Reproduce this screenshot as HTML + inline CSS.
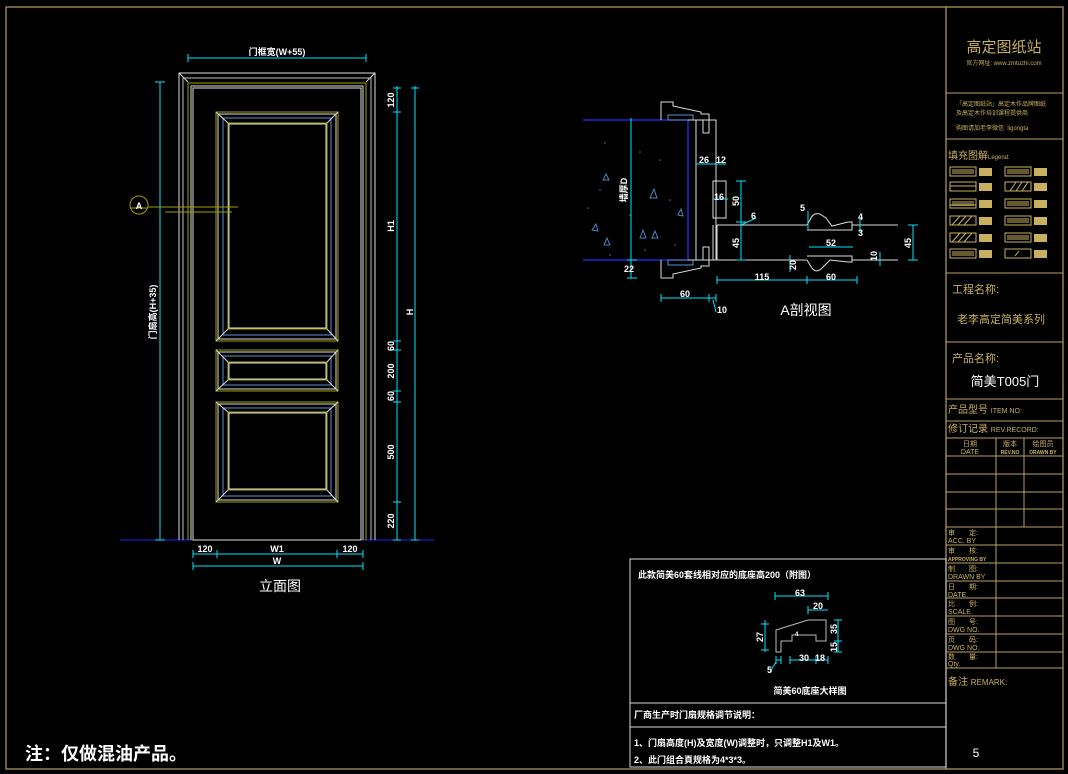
<!DOCTYPE html>
<html><head><meta charset="utf-8"><style>
html,body{margin:0;padding:0;background:#000;}
svg{display:block;}
text{font-family:"Liberation Sans","Noto Sans CJK SC",sans-serif;}
.w{fill:#fff;font-weight:bold;font-size:9px;}
.g{fill:#c8b060;}
</style></head><body>
<svg width="1068" height="774" viewBox="0 0 1068 774" xmlns="http://www.w3.org/2000/svg">
<rect width="1068" height="774" fill="#000"/>
<!-- outer border -->
<rect x="6" y="7" width="1057" height="762" fill="none" stroke="#b8a060" stroke-width="1.2"/>
<line x1="946" y1="7" x2="946" y2="769" stroke="#b8a060" stroke-width="1.2"/>

<!-- ================= DOOR ELEVATION ================= -->
<g fill="none" stroke-width="1">
<!-- ground -->
<line x1="120" y1="540" x2="434" y2="540" stroke="#2020ff"/>
<!-- outer frame -->
<polyline points="179,540 179,73 375,73 375,540" stroke="#ddd"/>
<line x1="179" y1="73" x2="188" y2="82" stroke="#ddd"/>
<line x1="375" y1="73" x2="366" y2="82" stroke="#ddd"/>
<polyline points="183,540 183,78 371,78 371,540" stroke="#bbb"/>
<polyline points="188,540 188,83 366,83 366,540" stroke="#a0a000"/>
<polyline points="191,540 191,86 363,86 363,540" stroke="#ddd"/>
<rect x="193" y="88" width="168" height="452" stroke="#ddd"/>
<!-- panels -->
<g id="p">
</g>
<!-- upper panel -->
<rect x="216" y="112" width="122" height="229" stroke="#a0a000"/>
<rect x="218" y="114" width="118" height="225" stroke="#ddd"/>
<rect x="223" y="118" width="108" height="217" stroke="#6090d0"/>
<rect x="228" y="123" width="99" height="206" stroke="#a0a000"/>
<rect x="229" y="124" width="97" height="204" stroke="#ddd"/>
<line x1="216" y1="112" x2="228" y2="123" stroke="#ddd"/><line x1="338" y1="112" x2="327" y2="123" stroke="#ddd"/>
<line x1="216" y1="341" x2="228" y2="329" stroke="#ddd"/><line x1="338" y1="341" x2="327" y2="329" stroke="#ddd"/>
<!-- middle panel -->
<rect x="216" y="350" width="122" height="41" stroke="#a0a000"/>
<rect x="218" y="352" width="118" height="37" stroke="#ddd"/>
<rect x="223" y="356" width="108" height="29" stroke="#6090d0"/>
<rect x="228" y="362" width="99" height="18" stroke="#a0a000"/>
<rect x="229" y="363" width="97" height="16" stroke="#ddd"/>
<line x1="216" y1="350" x2="228" y2="362" stroke="#ddd"/><line x1="338" y1="350" x2="327" y2="362" stroke="#ddd"/>
<line x1="216" y1="391" x2="228" y2="380" stroke="#ddd"/><line x1="338" y1="391" x2="327" y2="380" stroke="#ddd"/>
<!-- lower panel -->
<rect x="216" y="402" width="122" height="100" stroke="#a0a000"/>
<rect x="218" y="404" width="118" height="96" stroke="#ddd"/>
<rect x="223" y="408" width="108" height="88" stroke="#6090d0"/>
<rect x="228" y="412" width="99" height="78" stroke="#a0a000"/>
<rect x="229" y="413" width="97" height="76" stroke="#ddd"/>
<line x1="216" y1="402" x2="228" y2="412" stroke="#ddd"/><line x1="338" y1="402" x2="327" y2="412" stroke="#ddd"/>
<line x1="216" y1="502" x2="228" y2="490" stroke="#ddd"/><line x1="338" y1="502" x2="327" y2="490" stroke="#ddd"/>

<!-- section marker -->
<circle cx="139" cy="205" r="9" stroke="#a0a000"/>
<line x1="130" y1="208" x2="148" y2="208" stroke="#a0a000"/>
<line x1="148" y1="207" x2="238" y2="207" stroke="#a0a000"/>
<line x1="165" y1="212" x2="232" y2="212" stroke="#a0a000"/>

<!-- dimensions cyan -->
<g stroke="#00e5ff">
<line x1="188" y1="58" x2="366" y2="58"/>
<line x1="188" y1="54" x2="188" y2="62"/><line x1="366" y1="54" x2="366" y2="62"/>
<line x1="160" y1="82" x2="160" y2="540"/>
<line x1="155" y1="82" x2="165" y2="82"/><line x1="155" y1="540" x2="165" y2="540"/>
<line x1="397" y1="86" x2="397" y2="540"/>
<g><line x1="393" y1="88" x2="401" y2="88"/><line x1="393" y1="112" x2="401" y2="112"/><line x1="393" y1="341" x2="401" y2="341"/><line x1="393" y1="350" x2="401" y2="350"/><line x1="393" y1="391" x2="401" y2="391"/><line x1="393" y1="402" x2="401" y2="402"/><line x1="393" y1="502" x2="401" y2="502"/><line x1="393" y1="540" x2="401" y2="540"/></g>
<line x1="415" y1="86" x2="415" y2="540"/>
<line x1="411" y1="88" x2="419" y2="88"/><line x1="411" y1="540" x2="419" y2="540"/>
<line x1="193" y1="554" x2="363" y2="554"/>
<line x1="193" y1="550" x2="193" y2="558"/><line x1="217" y1="550" x2="217" y2="558"/><line x1="337" y1="550" x2="337" y2="558"/><line x1="363" y1="550" x2="363" y2="558"/>
<line x1="193" y1="566" x2="363" y2="566"/>
<line x1="193" y1="562" x2="193" y2="570"/><line x1="363" y1="562" x2="363" y2="570"/>
</g>
</g>
<text class="w" x="277" y="55" text-anchor="middle">门框宽(W+55)</text>
<text class="w" transform="translate(156,312) rotate(-90)" text-anchor="middle">门扇高(H+35)</text>
<g class="w">
<text transform="translate(394,100) rotate(-90)" text-anchor="middle">120</text>
<text transform="translate(394,226) rotate(-90)" text-anchor="middle">H1</text>
<text transform="translate(394,346) rotate(-90)" text-anchor="middle">60</text>
<text transform="translate(394,371) rotate(-90)" text-anchor="middle">200</text>
<text transform="translate(394,396) rotate(-90)" text-anchor="middle">60</text>
<text transform="translate(394,452) rotate(-90)" text-anchor="middle">500</text>
<text transform="translate(394,521) rotate(-90)" text-anchor="middle">220</text>
<text transform="translate(413,312) rotate(-90)" text-anchor="middle">H</text>
<text x="205" y="552" text-anchor="middle">120</text>
<text x="277" y="552" text-anchor="middle">W1</text>
<text x="350" y="552" text-anchor="middle">120</text>
<text x="277" y="564" text-anchor="middle">W</text>
<text x="139" y="209" text-anchor="middle" fill="#fff">A</text>
</g>
<text x="280" y="591" fill="#fff" font-size="14" text-anchor="middle">立面图</text>

<!-- ================= SECTION A ================= -->
<g fill="none" stroke-width="1">
<!-- wall hatch -->
<line x1="583" y1="120" x2="688" y2="120" stroke="#2030ff" stroke-width="1.3"/>
<line x1="583" y1="260" x2="688" y2="260" stroke="#2030ff" stroke-width="1.3"/>
<line x1="688" y1="120" x2="688" y2="260" stroke="#2030ff" stroke-width="1.3"/>
<g stroke="#5080c0">
<path d="M640,238 l3,-8 l3,8z M650,198 l4,-9 l3,9z M652,238 l3,-7 l3,7z M604,245 l3,-7 l3,7z M592,230 l4,-6 l2,7z M603,180 l3,-6 l3,6z M678,215 l3,-6 l2,7z"/>
</g>
<g fill="#4070c0" stroke="none">
<circle cx="605" cy="143" r=".8"/><circle cx="640" cy="152" r=".8"/><circle cx="660" cy="160" r=".8"/><circle cx="600" cy="190" r=".8"/><circle cx="670" cy="200" r=".8"/><circle cx="610" cy="255" r=".8"/><circle cx="645" cy="250" r=".8"/><circle cx="675" cy="245" r=".8"/><circle cx="588" cy="208" r=".8"/><circle cx="630" cy="215" r=".8"/>
</g>
<line x1="631" y1="118" x2="631" y2="278" stroke="#00e5ff"/>
<line x1="627" y1="260" x2="637" y2="260" stroke="#00e5ff"/><line x1="627" y1="278" x2="637" y2="278" stroke="#00e5ff"/>
<!-- trim top -->
<polyline points="661,120 661,102 673,102 673,106 701,112 701,114 709,114 709,133 703,133 703,120" stroke="#ddd"/>
<polyline points="661,260 661,278 673,278 673,274 701,268 701,266 709,266 709,247 703,247 703,260" stroke="#ddd"/>
<rect x="668" y="115" width="25" height="5" stroke="#6090d0"/>
<rect x="668" y="260" width="25" height="5" stroke="#6090d0"/>
<!-- jamb -->
<line x1="696" y1="120" x2="696" y2="260" stroke="#ddd"/>
<polyline points="688,120 716,120 716,260 688,260" stroke="#ddd"/>
<line x1="713" y1="225" x2="713" y2="260" stroke="#ddd"/>
<rect x="713" y="181" width="13" height="37" stroke="#ddd"/>
<!-- leaf -->
<line x1="717" y1="225" x2="807" y2="225" stroke="#ddd"/>
<path d="M807,225 L810,220 Q813,212 820,214 L826,218 L832,226 L848,222 L852,222 L852,230 L807,230" stroke="#ddd"/>
<line x1="852" y1="225" x2="898" y2="225" stroke="#ddd"/>
<line x1="717" y1="260" x2="807" y2="260" stroke="#ddd"/>
<path d="M807,260 L810,265 Q815,275 822,268 L830,260 L848,262 L852,262 L852,256 L807,256" stroke="#ddd"/>
<line x1="852" y1="260" x2="898" y2="260" stroke="#ddd"/>
<line x1="717" y1="225" x2="717" y2="260" stroke="#ddd"/>
<!-- dims -->
<g stroke="#00e5ff">
<line x1="696" y1="164" x2="726" y2="164"/>
<line x1="713" y1="199" x2="728" y2="199"/>
<line x1="741" y1="181" x2="741" y2="260"/>
<line x1="736" y1="181" x2="746" y2="181"/><line x1="736" y1="222" x2="746" y2="222"/><line x1="736" y1="260" x2="746" y2="260"/>
<line x1="717" y1="280" x2="857" y2="280"/>
<line x1="717" y1="276" x2="717" y2="284"/><line x1="807" y1="276" x2="807" y2="284"/><line x1="857" y1="276" x2="857" y2="284"/>
<line x1="661" y1="298" x2="716" y2="298"/>
<line x1="661" y1="294" x2="661" y2="302"/><line x1="709" y1="294" x2="709" y2="302"/><line x1="716" y1="294" x2="716" y2="302"/>
<line x1="713" y1="300" x2="716" y2="312"/>
<line x1="809" y1="247" x2="853" y2="247"/>
<line x1="913" y1="225" x2="913" y2="260"/>
<line x1="908" y1="225" x2="918" y2="225"/><line x1="908" y1="260" x2="918" y2="260"/>
<line x1="790" y1="255" x2="790" y2="272"/>
<line x1="808" y1="211" x2="808" y2="230"/>
<line x1="860" y1="218" x2="860" y2="232"/>
<line x1="880" y1="252" x2="880" y2="266"/>
<line x1="741" y1="225" x2="756" y2="218"/>
</g>
</g>
<g class="w" font-size="8">
<text x="704" y="163" text-anchor="middle">26</text>
<text x="721" y="163" text-anchor="middle">12</text>
<text x="719" y="200" text-anchor="middle">16</text>
<text transform="translate(739,201) rotate(-90)" text-anchor="middle">50</text>
<text transform="translate(739,243) rotate(-90)" text-anchor="middle">45</text>
<text x="751" y="219">6</text>
<text x="800" y="211">5</text>
<text x="858" y="220">4</text>
<text x="858" y="236">3</text>
<text x="831" y="246" text-anchor="middle">52</text>
<text transform="translate(796,265) rotate(-90)" text-anchor="middle">20</text>
<text transform="translate(877,256) rotate(-90)" text-anchor="middle">10</text>
<text transform="translate(911,243) rotate(-90)" text-anchor="middle">45</text>
<text x="762" y="280" text-anchor="middle">115</text>
<text x="831" y="280" text-anchor="middle">60</text>
<text x="685" y="297" text-anchor="middle">60</text>
<text x="722" y="313" text-anchor="middle">10</text>
<text x="629" y="272" text-anchor="middle">22</text>
<text transform="translate(627,190) rotate(-90)" text-anchor="middle">墙厚D</text>
</g>
<text x="806" y="315" fill="#fff" font-size="14" text-anchor="middle">A剖视图</text>

<!-- ================= LOWER NOTE BOX ================= -->
<g fill="none" stroke="#ddd" stroke-width="1">
<rect x="630" y="559" width="316" height="208"/>
<line x1="630" y1="703" x2="946" y2="703"/>
<line x1="630" y1="727" x2="946" y2="727"/>
<polygon points="776,652 776,630 808,620 826,620 826,641 816,641 816,635 792,635 792,641 781,641 781,652" stroke="#bbb"/>
</g>
<g stroke="#00e5ff" fill="none">
<line x1="775" y1="596" x2="828" y2="596"/><line x1="775" y1="592" x2="775" y2="600"/><line x1="828" y1="592" x2="828" y2="600"/>
<line x1="808" y1="610" x2="828" y2="610"/><line x1="808" y1="606" x2="808" y2="614"/>
<line x1="765" y1="620" x2="765" y2="652"/><line x1="761" y1="624" x2="769" y2="624"/><line x1="761" y1="650" x2="769" y2="650"/>
<line x1="838" y1="620" x2="838" y2="652"/><line x1="834" y1="620" x2="842" y2="620"/><line x1="834" y1="641" x2="842" y2="641"/><line x1="834" y1="652" x2="842" y2="652"/>
<line x1="776" y1="660" x2="781" y2="660"/><line x1="790" y1="660" x2="828" y2="660"/>
<line x1="776" y1="656" x2="776" y2="664"/><line x1="781" y1="656" x2="781" y2="664"/><line x1="790" y1="656" x2="790" y2="664"/><line x1="816" y1="656" x2="816" y2="664"/><line x1="828" y1="656" x2="828" y2="664"/>
<line x1="776" y1="662" x2="770" y2="672"/>
</g>
<g class="w" font-size="8">
<text x="800" y="596" text-anchor="middle">63</text>
<text x="818" y="609" text-anchor="middle">20</text>
<text transform="translate(763,637) rotate(-90)" text-anchor="middle">27</text>
<text transform="translate(837,629) rotate(-90)" text-anchor="middle">35</text>
<text transform="translate(837,647) rotate(-90)" text-anchor="middle">15</text>
<text x="804" y="661" text-anchor="middle">30</text>
<text x="820" y="661" text-anchor="middle">18</text>
<text x="767" y="673">5</text>
<text x="795" y="636" font-size="6">4</text>
</g>
<text class="w" x="638" y="578">此款简美60套线相对应的底座高200（附图）</text>
<text class="w" x="810" y="694" text-anchor="middle">简美60底座大样图</text>
<text class="w" x="634" y="718">厂商生产时门扇规格调节说明：</text>
<text class="w" x="634" y="746">1、门扇高度(H)及宽度(W)调整时，只调整H1及W1。</text>
<text class="w" x="634" y="763">2、此门组合頁规格为4*3*3。</text>

<text x="25" y="760" fill="#fff" font-size="18" font-weight="bold">注：仅做混油产品。</text>

<!-- ================= TITLE BLOCK ================= -->
<g stroke="#b8a060" fill="none" stroke-width="1">
<line x1="946" y1="93" x2="1063" y2="93"/>
<line x1="946" y1="139" x2="1063" y2="139"/>
<line x1="946" y1="273" x2="1063" y2="273"/>
<line x1="946" y1="342" x2="1063" y2="342"/>
<line x1="946" y1="399" x2="1063" y2="399"/>
<line x1="946" y1="421" x2="1063" y2="421"/>
<line x1="946" y1="438" x2="1063" y2="438"/>
<line x1="946" y1="456" x2="1063" y2="456"/>
<line x1="946" y1="474" x2="1063" y2="474"/>
<line x1="946" y1="492" x2="1063" y2="492"/>
<line x1="946" y1="509" x2="1063" y2="509"/>
<line x1="946" y1="527" x2="1063" y2="527"/>
<line x1="946" y1="545" x2="1063" y2="545"/>
<line x1="946" y1="563" x2="1063" y2="563"/>
<line x1="946" y1="581" x2="1063" y2="581"/>
<line x1="946" y1="598" x2="1063" y2="598"/>
<line x1="946" y1="616" x2="1063" y2="616"/>
<line x1="946" y1="634" x2="1063" y2="634"/>
<line x1="946" y1="652" x2="1063" y2="652"/>
<line x1="946" y1="668" x2="1063" y2="668"/>
<line x1="996" y1="438" x2="996" y2="668"/>
<line x1="1024" y1="438" x2="1024" y2="527"/>
</g>
<text x="1004" y="52" class="g" font-size="15" text-anchor="middle">高定图纸站</text>
<text x="1004" y="65" class="g" font-size="6" text-anchor="middle">官方网址: www.zmtuzhi.com</text>
<text x="956" y="106" class="g" font-size="6">「高定图纸站」高定木作品牌图纸</text>
<text x="956" y="115" class="g" font-size="6">及高定木作培训课程提供商</text>
<text x="956" y="130" class="g" font-size="6">购图请加老李微信: ligongta</text>
<text x="948" y="159" class="g" font-size="10">填充图解<tspan font-size="6">Legend:</tspan></text>
<g fill="none" stroke="#c8b060">
<rect x="950" y="167" width="26" height="9"/><rect x="1005" y="167" width="26" height="9"/>
<rect x="950" y="182" width="26" height="9"/><rect x="1005" y="182" width="26" height="9"/>
<rect x="950" y="199" width="26" height="9"/><rect x="1005" y="199" width="26" height="9"/>
<rect x="950" y="216" width="26" height="9"/><rect x="1005" y="216" width="26" height="9"/>
<rect x="950" y="233" width="26" height="9"/><rect x="1005" y="233" width="26" height="9"/>
<rect x="950" y="249" width="26" height="9"/><rect x="1005" y="249" width="26" height="9"/>
<path d="M952,225 l8,-9 M958,225 l8,-9 M964,225 l8,-9 M952,242 l8,-9 M958,242 l8,-9 M964,242 l8,-9 M1010,191 l6,-9 M1016,191 l6,-9 M1022,191 l6,-9 M950,186 h26 M950,205 h26 M1015,256 l4,-5"/>
</g>
<g fill="#c8b060">
<rect x="952" y="169" width="22" height="5" opacity=".5"/><rect x="1007" y="169" width="22" height="5" opacity=".5"/>
<rect x="952" y="201" width="22" height="5" opacity=".5"/><rect x="1007" y="201" width="22" height="5" opacity=".5"/>
<rect x="1007" y="218" width="22" height="5" opacity=".5"/><rect x="1007" y="235" width="22" height="5" opacity=".5"/>
<rect x="952" y="251" width="22" height="5" opacity=".5"/>
<rect x="979" y="168" width="13" height="8"/><rect x="1034" y="168" width="13" height="8"/>
<rect x="979" y="183" width="13" height="8"/><rect x="1034" y="183" width="13" height="8"/>
<rect x="979" y="200" width="13" height="8"/><rect x="1034" y="200" width="13" height="8"/>
<rect x="979" y="217" width="13" height="8"/><rect x="1034" y="217" width="13" height="8"/>
<rect x="979" y="234" width="13" height="8"/><rect x="1034" y="234" width="13" height="8"/>
<rect x="979" y="250" width="13" height="8"/><rect x="1034" y="250" width="13" height="8"/>
</g>
<text x="952" y="293" class="g" font-size="11">工程名称:</text>
<text x="1001" y="323" class="g" font-size="11" text-anchor="middle">老李高定简美系列</text>
<text x="952" y="362" class="g" font-size="11">产品名称:</text>
<text x="1005" y="386" fill="#fff" font-size="13" text-anchor="middle">简美T005门</text>
<text x="948" y="413" class="g" font-size="10">产品型号 <tspan font-size="7">ITEM NO:</tspan></text>
<text x="948" y="432" class="g" font-size="10">修订记录 <tspan font-size="7">REV.RECORD:</tspan></text>
<g class="g" font-size="7">
<text x="970" y="446" text-anchor="middle">日期</text><text x="970" y="454" text-anchor="middle">DATE</text>
<text x="1010" y="446" text-anchor="middle">版本</text><text x="1010" y="454" text-anchor="middle" font-size="5" font-weight="bold">REV.NO</text>
<text x="1043" y="446" text-anchor="middle">绘图员</text><text x="1043" y="454" text-anchor="middle" font-size="5" font-weight="bold">DRAWN BY</text>
<text x="948" y="535">审　　定:</text><text x="948" y="543">ACC. BY</text>
<text x="948" y="553">审　　核:</text><text x="948" y="561" font-size="5" font-weight="bold">APPROVING BY</text>
<text x="948" y="571">制　　图:</text><text x="948" y="579">DRAWN BY</text>
<text x="948" y="589">日　　期:</text><text x="948" y="597">DATE.</text>
<text x="948" y="606">比　　例:</text><text x="948" y="614">SCALE.</text>
<text x="948" y="624">图　　号:</text><text x="948" y="632">DWG NO.</text>
<text x="948" y="642">页　　码:</text><text x="948" y="650">DWG NO.</text>
<text x="948" y="659">数　　量:</text><text x="948" y="666">Qty.</text>
</g>
<text x="948" y="685" class="g" font-size="10">备注 <tspan font-size="8">REMARK:</tspan></text>
<text x="976" y="757" fill="#fff" font-size="12" text-anchor="middle">5</text>
</svg>
</body></html>
